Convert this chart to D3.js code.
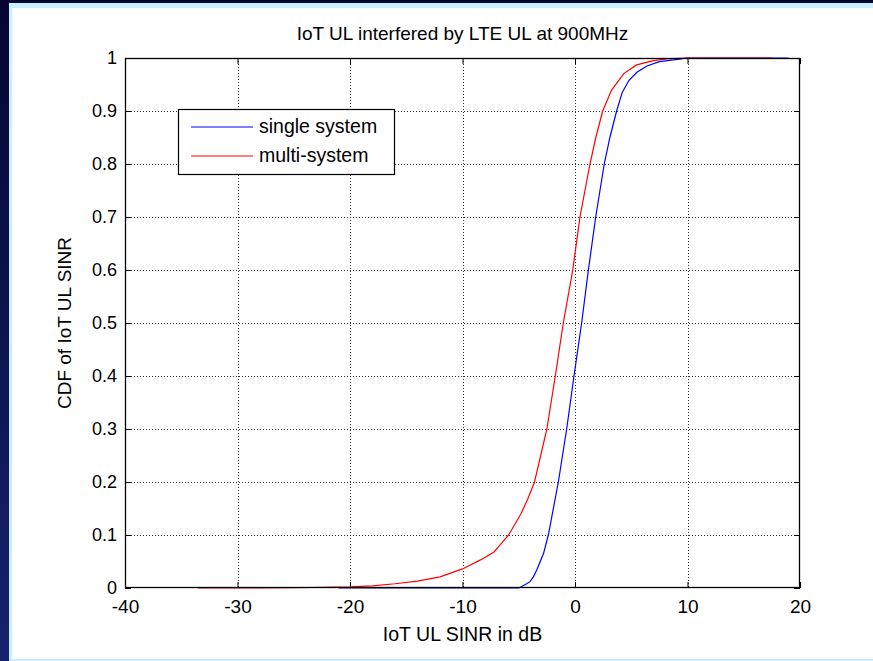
<!DOCTYPE html>
<html><head><meta charset="utf-8">
<script src="https://cdn.jsdelivr.net/npm/d3@7"></script>
<style>
body{margin:0;overflow:hidden;background:#fff;}
text{font-family:"Liberation Sans", Arial, Helvetica, sans-serif;fill:#000;}
</style>
</head><body>
<svg id="c" width="873" height="661"></svg>
<script>
// ---- data ----
const titleText = "IoT UL interfered by LTE UL at 900MHz";
const xLabelText = "IoT UL SINR in dB";
const yLabelText = "CDF of IoT UL SINR";
const xTicks = [-40, -30, -20, -10, 0, 10, 20];
const yTicks = [0, 0.1, 0.2, 0.3, 0.4, 0.5, 0.6, 0.7, 0.8, 0.9, 1];
const seriesNames = ["single system", "multi-system"];

// single system (blue)
const singleX = [-21, -5, -4.9, -4.3, -4.0, -3.7, -3.4, -2.8, -2.37, -1.48, -0.74, -0.09, 0.59, 1.19, 1.84, 2.6, 3.1, 3.7, 4.2, 4.8, 5.5, 6.4, 7.5, 9.3, 9.9, 19];
const singleY = [0, 0, 0.001, 0.008, 0.012, 0.021, 0.034, 0.065, 0.10, 0.20, 0.30, 0.40, 0.50, 0.60, 0.70, 0.80, 0.85, 0.90, 0.935, 0.958, 0.973, 0.985, 0.993, 0.998, 1, 1];

// multi-system (red)
const multiX = [-33.5, -25, -20, -18, -16, -14, -12, -10, -8.4, -7.2, -6.5, -5.9, -4.8, -4.2, -3.6, -2.5, -1.75, -1.04, -0.2, 0.44, 1.33, 1.85, 2.46, 3.26, 4.36, 5.48, 6.96, 8.4, 10, 17.5];
const multiY = [0, 0.0005, 0.002, 0.004, 0.008, 0.013, 0.021, 0.036, 0.053, 0.068, 0.085, 0.10, 0.14, 0.168, 0.20, 0.30, 0.40, 0.50, 0.60, 0.70, 0.80, 0.85, 0.90, 0.94, 0.971, 0.987, 0.995, 0.999, 1, 1];

const colors = ["#0000ff", "#ff0000"];

// ---- layout ----
const W = 873, H = 661;
const L = 125, R = 800, T = 58, B = 588;
const svg = d3.select("#c");

// slide background frame
const defs = svg.append("defs");
const g1 = defs.append("linearGradient").attr("id","navy").attr("x1",0).attr("y1",0).attr("x2",0).attr("y2",1);
g1.append("stop").attr("offset","0%").attr("stop-color","#050530");
g1.append("stop").attr("offset","100%").attr("stop-color","#15236e");
svg.append("rect").attr("x",0).attr("y",0).attr("width",W).attr("height",H).attr("fill","url(#navy)");
svg.append("rect").attr("x",9).attr("y",3).attr("width",W-9).attr("height",H-3).attr("fill","#c9efff");
svg.append("rect").attr("x",12).attr("y",8).attr("width",W-12).attr("height",H-10).attr("fill","#ffffff");

const x = d3.scaleLinear().domain([-40, 20]).range([L, R]);
const y = d3.scaleLinear().domain([0, 1]).range([B, T]);

// grid
const grid = svg.append("g").attr("stroke","#333").attr("stroke-width",1).attr("stroke-dasharray","1,2");
grid.selectAll("line.gx").data(xTicks.slice(1,-1)).enter().append("line")
  .attr("x1",d=>Math.round(x(d))+0.5).attr("x2",d=>Math.round(x(d))+0.5)
  .attr("y1",T).attr("y2",B);
grid.selectAll("line.gy").data(yTicks.slice(1,-1)).enter().append("line")
  .attr("y1",d=>Math.round(y(d))+0.5).attr("y2",d=>Math.round(y(d))+0.5)
  .attr("x1",L).attr("x2",R);

// axes
const fontSize = 18;
const axB = svg.append("g").attr("transform",`translate(0,${B})`)
  .call(d3.axisBottom(x).tickValues(xTicks).tickSize(-6).tickPadding(12).tickFormat(d=>String(d)));
const axT = svg.append("g").attr("transform",`translate(0,${T})`)
  .call(d3.axisTop(x).tickValues(xTicks).tickSize(-6).tickFormat(""));
const axL = svg.append("g").attr("transform",`translate(${L},0)`)
  .call(d3.axisLeft(y).tickValues(yTicks).tickSize(-6).tickPadding(8).tickFormat(d=>String(d)));
const axR = svg.append("g").attr("transform",`translate(${R},0)`)
  .call(d3.axisRight(y).tickValues(yTicks).tickSize(-6).tickFormat(""));
[axB,axT,axL,axR].forEach(a=>{
  a.select(".domain").remove();
  a.selectAll(".tick line").attr("stroke","#000");
  a.selectAll("text").style("font-size",fontSize+"px").attr("fill","#000")
   .style("font-family","'Liberation Sans', Arial, sans-serif");
});
axB.selectAll("text").style("font-size","19px");

// curves
const line = d3.line().x(d=>x(d[0])).y(d=>y(d[1]));
const singleData = singleX.map((v,i)=>[v, singleY[i]]);
const multiData = multiX.map((v,i)=>[v, multiY[i]]);
svg.append("path").datum(singleData).attr("d",line).attr("fill","none").attr("stroke",colors[0]).attr("stroke-width",1.2);
svg.append("path").datum(multiData).attr("d",line).attr("fill","none").attr("stroke",colors[1]).attr("stroke-width",1.2);

// box
svg.append("rect").attr("x",L+0.5).attr("y",T+0.5).attr("width",R-L-1).attr("height",B-T-1)
  .attr("fill","none").attr("stroke","#000").attr("stroke-width",1.3);

// title & labels
svg.append("text").attr("x",(L+R)/2).attr("y",40).attr("text-anchor","middle")
  .style("font-size","19px").text(titleText);
svg.append("text").attr("x",(L+R)/2).attr("y",641).attr("text-anchor","middle")
  .style("font-size","19.5px").text(xLabelText);
svg.append("text").attr("transform",`translate(71,${(T+B)/2}) rotate(-90)`).attr("text-anchor","middle")
  .style("font-size","19px").text(yLabelText);

// legend
const lg = svg.append("g");
lg.append("rect").attr("x",178.5).attr("y",109.5).attr("width",216).attr("height",65)
  .attr("fill","#fff").attr("stroke","#000").attr("stroke-width",1.2);
const legY = [127, 156];
seriesNames.forEach((n,i)=>{
  lg.append("line").attr("x1",191).attr("x2",253).attr("y1",legY[i]).attr("y2",legY[i])
    .attr("stroke",colors[i]).attr("stroke-width",1.2);
  lg.append("text").attr("x",259).attr("y",legY[i]+6).style("font-size","19.5px").text(n);
});
</script>
</body></html>
